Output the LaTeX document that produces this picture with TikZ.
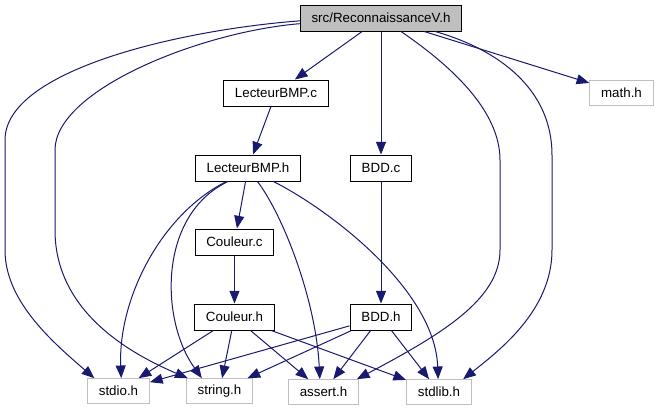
\documentclass[tikz,border=0pt]{standalone}
\usepackage{fontspec}
\setmainfont{Liberation Sans}
\usetikzlibrary{arrows.meta}
\definecolor{edgeblue}{RGB}{25,25,112}
\definecolor{boxgray}{RGB}{191,191,191}
\begin{document}
\begin{tikzpicture}[x=.75pt,y=-.75pt,font=\fontsize{10}{12}\selectfont,
 file/.style={draw=black,line width=.75pt,inner xsep=8.5pt,minimum height=19.5pt},
 sys/.style={draw=boxgray,line width=.75pt,inner xsep=8.5pt,minimum height=18.5pt},
 dep/.style={draw=edgeblue,line width=.75pt,-{Triangle[length=9.5pt,width=7.5pt]}}]
\useasboundingbox(0,0)rectangle(658,411);
\node[file,fill=boxgray](recon)at(381,18){src/ReconnaissanceV.h};
\node[file](lbmpc)at(276,93){LecteurBMP.c};
\node[sys](math)at(621.5,93){math.h};
\node[file](lbmph)at(248,168){LecteurBMP.h};
\node[file](bddc)at(381,168){BDD.c};
\node[file](coulc)at(234.5,242){Couleur.c};
\node[file](coulh)at(234.5,317){Couleur.h};
\node[file](bddh)at(381,317){BDD.h};
\node[sys](stdio)at(118.5,391){stdio.h};
\node[sys](string)at(219.5,391){string.h};
\node[sys](assert)at(323.5,392){assert.h};
\node[sys](stdlib)at(439,392){stdlib.h};
\foreach \a/\b in {recon/lbmpc,recon/bddc,recon/math,lbmpc/lbmph,lbmph/coulc,coulc/coulh,bddc/bddh,coulh/stdio,coulh/string,coulh/assert,coulh/stdlib,bddh/stdio,bddh/string,bddh/assert,bddh/stdlib}{\draw[dep](\a)--(\b);}
\draw[dep](recon.182)..controls(180,30)and(5,70)..(5,140)--(5,250)..controls(5,300)and(50,340)..(stdio.152);
\draw[dep](recon.184)..controls(200,32)and(55,90)..(55,150)--(55,230)..controls(55,300)and(110,345)..(string.158);
\draw[dep](recon.-34)..controls(450,65)and(500,110)..(500,160)--(500,250)..controls(500,300)and(440,335)..(assert.21);
\draw[dep](recon.-14)..controls(500,50)and(552,90)..(552,155)--(552,250)..controls(552,310)and(500,350)..(stdlib.28);
\draw[dep](lbmph.212)..controls(160,215)and(118,300)..(stdio.78);
\draw[dep](lbmph.214)..controls(158,215)and(160,320)..(string.144);
\draw[dep](lbmph.305)..controls(283,215)and(316,300)..(assert.106);
\draw[dep](lbmph.332)..controls(330,210)and(435,290)..(stdlib.94);
\end{tikzpicture}
\end{document}
